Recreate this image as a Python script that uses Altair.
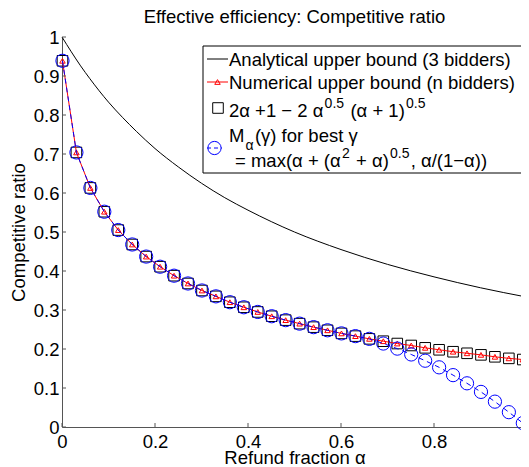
import altair as alt
import pandas as pd

# ---- data ----
alpha = [0.001, 0.031, 0.061, 0.091, 0.121, 0.151, 0.181, 0.211, 0.241, 0.271,
         0.301, 0.331, 0.361, 0.391, 0.421, 0.451, 0.481, 0.511, 0.541, 0.571,
         0.601, 0.631, 0.661, 0.691, 0.721, 0.751, 0.781, 0.811, 0.841, 0.871,
         0.901, 0.931, 0.961, 0.991]
formula_bound = [0.939, 0.704, 0.613, 0.552, 0.505, 0.468, 0.437, 0.411, 0.388, 0.368,
                 0.350, 0.335, 0.320, 0.307, 0.295, 0.284, 0.274, 0.265, 0.256, 0.248,
                 0.240, 0.233, 0.226, 0.220, 0.214, 0.209, 0.203, 0.198, 0.193, 0.189,
                 0.185, 0.180, 0.176, 0.173]
numerical_bound = [0.939, 0.704, 0.613, 0.552, 0.505, 0.468, 0.437, 0.411, 0.388, 0.368,
                   0.350, 0.335, 0.320, 0.307, 0.295, 0.284, 0.274, 0.265, 0.256, 0.248,
                   0.240, 0.233, 0.226, 0.220, 0.214, 0.209, 0.203, 0.198, 0.193, 0.189,
                   0.185, 0.180, 0.176, 0.173]
best_gamma = [0.939, 0.704, 0.613, 0.552, 0.505, 0.468, 0.437, 0.411, 0.388, 0.368,
              0.350, 0.335, 0.320, 0.307, 0.295, 0.284, 0.274, 0.265, 0.256, 0.248,
              0.240, 0.233, 0.226, 0.214, 0.201, 0.186, 0.170, 0.153, 0.133, 0.112,
              0.090, 0.065, 0.038, 0.010]
analytic_alpha = [0, 0.02, 0.04, 0.06, 0.08, 0.1, 0.13, 0.16, 0.2, 0.25, 0.3, 0.35,
                  0.4, 0.5, 0.6, 0.7, 0.8, 0.9, 1.0]
analytic_ratio = [1.0, 0.962, 0.926, 0.893, 0.862, 0.833, 0.794, 0.758, 0.714, 0.667,
                  0.625, 0.588, 0.556, 0.5, 0.455, 0.417, 0.385, 0.357, 0.333]
x_ticks = [0, 0.2, 0.4, 0.6, 0.8, 1]
y_ticks = [0, 0.1, 0.2, 0.3, 0.4, 0.5, 0.6, 0.7, 0.8, 0.9, 1]

W, H = 465, 390
FONT = "Liberation Sans"
FS = 18.5
SUB = 14
AXC = "#555555"

xs = alt.Scale(domain=[0, 1], nice=False, zero=False)
ys = alt.Scale(domain=[0, 1], nice=False, zero=False)

df_an = pd.DataFrame({"a": analytic_alpha, "r": analytic_ratio})
df_fo = pd.DataFrame({"a": alpha, "r": formula_bound})
df_nu = pd.DataFrame({"a": alpha, "r": numerical_bound})
df_be = pd.DataFrame({"a": alpha, "r": best_gamma})

XA = alt.X("a:Q", scale=xs, title="Refund fraction α",
           axis=alt.Axis(values=x_ticks, format="~g", ticks=False, grid=False,
                         labelPadding=5, titlePadding=-2, labelFlush=False))
YA = alt.Y("r:Q", scale=ys, title="Competitive ratio",
           axis=alt.Axis(values=y_ticks, format="~g", ticks=False, grid=False,
                         labelPadding=3, titlePadding=5, labelFlush=False))

analytic = alt.Chart(df_an).mark_line(color="black", strokeWidth=1, interpolate="monotone").encode(
    x=XA, y=YA)
squares = alt.Chart(df_fo).mark_point(shape="square", size=112, stroke="black", strokeWidth=1,
                                      filled=False, opacity=1).encode(x=XA, y=YA)
red_line = alt.Chart(df_nu).mark_line(color="red", strokeWidth=1).encode(x=XA, y=YA)
red_tri = alt.Chart(df_nu).mark_point(shape="triangle-up", size=30, color="red", strokeWidth=1,
                                      filled=False, opacity=1).encode(x=XA, y=YA)
blue_line = alt.Chart(df_be).mark_line(color="blue", strokeWidth=1, strokeDash=[5, 4]).encode(
    x=XA, y=YA)
blue_circ = alt.Chart(df_be).mark_point(shape="circle", size=175, color="blue", strokeWidth=1,
                                        filled=False, opacity=1).encode(x=XA, y=YA)

# inward ticks
xt = alt.Chart(pd.DataFrame({"a": x_ticks})).mark_rule(color=AXC, strokeWidth=1).encode(
    x=XA, y=alt.value(H), y2=alt.value(H - 4))
yt = alt.Chart(pd.DataFrame({"r": y_ticks})).mark_rule(color=AXC, strokeWidth=1).encode(
    y=YA, x=alt.value(0), x2=alt.value(4))

# ---- legend (drawn manually to allow sub/superscripts) ----
one = pd.DataFrame({"k": [0]})
box = alt.Chart(one).mark_rect(fill="white", stroke="black", strokeWidth=1).encode(
    x=alt.value(141), x2=alt.value(460), y=alt.value(9), y2=alt.value(136))
l1 = alt.Chart(one).mark_rule(color="black", strokeWidth=1).encode(
    x=alt.value(145), x2=alt.value(166), y=alt.value(22))
l2 = alt.Chart(one).mark_rule(color="red", strokeWidth=1).encode(
    x=alt.value(145), x2=alt.value(166), y=alt.value(45))
l2m = alt.Chart(one).mark_point(shape="triangle-up", size=30, color="red", strokeWidth=1,
                                filled=False, opacity=1).encode(x=alt.value(155.5), y=alt.value(45))
l3m = alt.Chart(one).mark_point(shape="square", size=112, stroke="black", strokeWidth=1,
                                filled=False, opacity=1).encode(x=alt.value(156), y=alt.value(71))
l4 = alt.Chart(one).mark_rule(color="blue", strokeWidth=1, strokeDash=[4, 3]).encode(
    x=alt.value(145), x2=alt.value(160), y=alt.value(111))
l4m = alt.Chart(one).mark_point(shape="circle", size=175, color="blue", strokeWidth=1,
                                filled=False, opacity=1).encode(x=alt.value(152.5), y=alt.value(111))

CW = {" ": 278, "(": 333, ")": 333, "+": 584, "−": 584, "=": 584, ",": 278, "/": 278, ".": 278,
      "a": 556, "b": 556, "d": 556, "e": 556, "f": 278, "i": 222, "l": 222, "m": 833, "n": 556,
      "o": 556, "r": 333, "s": 500, "t": 278, "u": 556, "x": 500, "M": 833, "α": 578, "γ": 500}


def tw(s, size):
    return sum(CW.get(c, 556) for c in s) * size / 1000.0


text_layers = []


def line_of(pieces, x0, base):
    x = x0
    for txt, kind in pieces:
        size = FS if kind == "n" else SUB
        dy = 0 if kind == "n" else (-9 if kind == "sup" else 8)
        lead = len(txt) - len(txt.lstrip(" "))
        x += lead * tw(" ", size)
        core = txt.strip(" ")
        text_layers.append(
            alt.Chart(one).mark_text(align="left", baseline="alphabetic", font=FONT,
                                     fontSize=size, color="black", text=core).encode(
                x=alt.value(round(x, 1)), y=alt.value(base + dy)))
        x += tw(core, size) + 1.2
        trail = len(txt) - len(txt.rstrip(" "))
        x += trail * tw(" ", size)


line_of([("Analytical upper bound (3 bidders)", "n")], 167, 29)
line_of([("Numerical upper bound (n bidders)", "n")], 167, 52)
line_of([("2α +1 − 2 α", "n"), ("0.5", "sup"), (" (α + 1)", "n"), ("0.5", "sup")], 167, 80)
line_of([("M", "n"), ("α", "sub"), ("(γ) for best γ", "n")], 167, 105)
line_of([("= max(α + (α", "n"), ("2", "sup"), (" + α)", "n"), ("0.5", "sup"),
         (", α/(1−α))", "n")], 173, 130)

chart = alt.layer(
    analytic, squares, red_line, red_tri, blue_line, blue_circ, xt, yt,
    box, l1, l2, l2m, l3m, l4, l4m, *text_layers
).properties(
    width=W, height=H,
    title=alt.TitleParams("Effective efficiency: Competitive ratio", font=FONT, fontSize=FS,
                          fontWeight="normal", color="black", anchor="middle",
                          frame="group", offset=2),
    autosize=alt.AutoSizeParams(type="none"),
    padding={"left": 54, "top": 29, "right": -6, "bottom": 40},
).configure_view(stroke=None).configure_axis(
    labelFont=FONT, labelFontSize=FS, labelColor="black",
    titleFont=FONT, titleFontSize=FS, titleFontWeight="normal", titleColor="black",
    domainColor=AXC, domainWidth=1,
)

chart.save("out.html", embed_options={"renderer": "svg", "actions": False})
